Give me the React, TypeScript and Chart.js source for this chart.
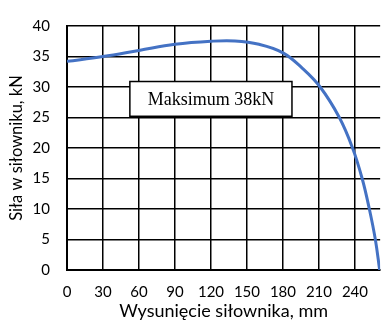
import React, { useEffect, useRef } from "react";
import { Chart, registerables } from "chart.js";

Chart.register(...registerables);

// Data
const strokeMm = [0, 30, 60, 90, 120, 140, 160, 180, 196, 211, 227, 238, 246, 252, 257, 260.6];
const forceKN = [34.2, 35.0, 36.0, 37.0, 37.5, 37.55, 37.0, 35.6, 33.1, 30.0, 25.0, 20.0, 15.0, 10.0, 5.0, 0];
const xTickValues = [0, 30, 60, 90, 120, 150, 180, 210, 240];
const yTickValues = [0, 5, 10, 15, 20, 25, 30, 35, 40];

const xTitle = "Wysunięcie siłownika, mm";
const yTitle = "Siła w siłowniku, kN";
const annotationText = "Maksimum 38kN";

const SANS = "Lato, 'Open Sans', sans-serif";

const annotationPlugin = {
  id: "maxBox",
  afterDraw(chart: any) {
    const { ctx, scales } = chart;
    const xs = scales.x;
    const ys = scales.y;
    const x0 = xs.getPixelForValue(52.4);
    const x1 = xs.getPixelForValue(187.5);
    const y0 = ys.getPixelForValue(30.9);
    const y1 = ys.getPixelForValue(25.2);
    ctx.save();
    ctx.fillStyle = "#ffffff";
    ctx.fillRect(x0, y0, x1 - x0, y1 - y0);
    ctx.strokeStyle = "#000000";
    ctx.lineWidth = 1.5;
    ctx.strokeRect(x0, y0, x1 - x0, y1 - y0);
    ctx.fillStyle = "#000000";
    ctx.font = "18px 'Liberation Serif', 'Times New Roman', serif";
    ctx.textAlign = "center";
    ctx.textBaseline = "middle";
    ctx.fillText(annotationText, (x0 + x1) / 2, (y0 + y1) / 2 + 1);
    ctx.restore();
  },
};

export default function App() {
  const ref = useRef<HTMLCanvasElement | null>(null);

  useEffect(() => {
    if (!ref.current) return;
    const chart = new Chart(ref.current, {
      type: "line",
      data: {
        datasets: [
          {
            data: strokeMm.map((x, i) => ({ x, y: forceKN[i] })),
            borderColor: "#4472C4",
            borderWidth: 3,
            pointRadius: 0,
            tension: 0.4,
            fill: false,
          },
        ],
      },
      options: {
        animation: false,
        responsive: false,
        maintainAspectRatio: false,
        layout: { padding: { top: 13, right: 0, bottom: 0, left: 0 } },
        plugins: { legend: { display: false }, tooltip: { enabled: false } },
        scales: {
          x: {
            type: "linear",
            min: 0,
            max: 261,
            afterBuildTicks: (s: any) => {
              s.ticks = xTickValues.map((v) => ({ value: v }));
            },
            afterFit: (s: any) => {
              s.height = 54;
            },
            ticks: {
              color: "#000",
              font: { family: SANS, size: 15 },
              padding: 13,
              maxRotation: 0,
              autoSkip: false,
            },
            grid: { color: "#000", lineWidth: 1.5, drawTicks: false },
            border: { color: "#000", width: 2 },
            title: {
              display: true,
              text: xTitle,
              color: "#000",
              font: { family: SANS, size: 18 },
              padding: { top: 0, bottom: 2 },
            },
          },
          y: {
            min: 0,
            max: 40,
            afterBuildTicks: (s: any) => {
              s.ticks = yTickValues.map((v) => ({ value: v }));
            },
            afterFit: (s: any) => {
              s.width = 67;
            },
            ticks: {
              color: "#000",
              font: { family: SANS, size: 15 },
              padding: 17,
              autoSkip: false,
            },
            grid: { color: "#000", lineWidth: 1.5, drawTicks: false },
            border: { color: "#000", width: 2 },
            title: {
              display: true,
              text: yTitle,
              color: "#000",
              font: { family: SANS, size: 16.5 },
              padding: { top: 7, bottom: 0 },
            },
          },
        },
      },
      plugins: [annotationPlugin],
    });
    return () => chart.destroy();
  }, []);

  return (
    <div style={{ position: "absolute", left: 0, top: 0, width: 381, height: 324, background: "#fff" }}>
      <canvas ref={ref} width={381} height={324} style={{ display: "block" }} />
    </div>
  );
}
